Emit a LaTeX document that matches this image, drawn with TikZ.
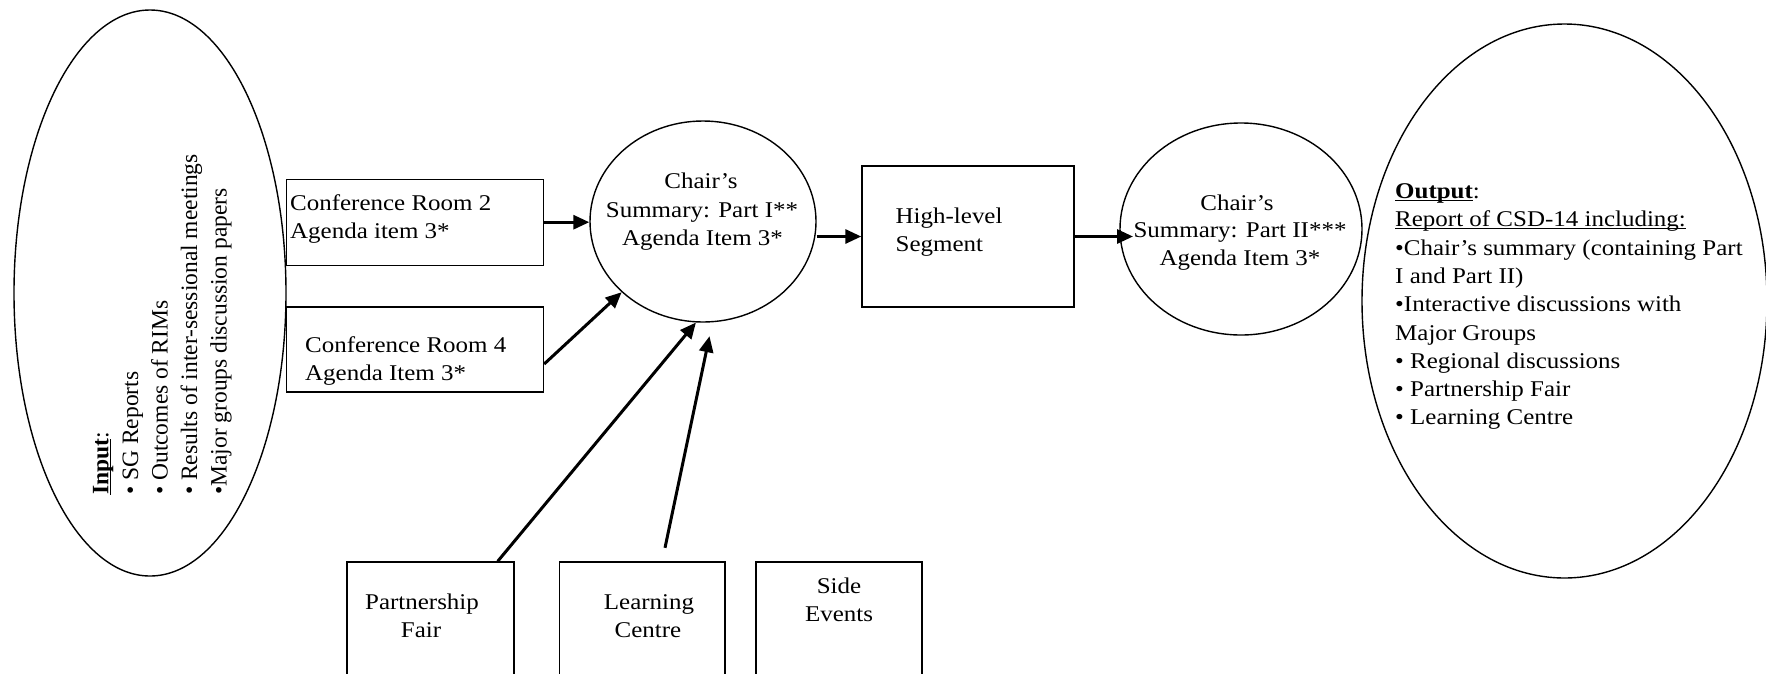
\documentclass[tikz,border=0pt]{standalone}
\usepackage{fontspec}
\setmainfont{Liberation Serif}
\newfontfamily\hfont[FakeStretch=1.11]{Liberation Serif}
\usetikzlibrary{shapes.geometric,arrows.meta}
\newcommand\myul[1]{\setbox0\hbox{#1}\rlap{\rule[-2.5pt]{\wd0}{1.3pt}}\box0}
\begin{document}
\begin{tikzpicture}[x=1pt,y=-1pt,
  box/.style={draw, line width=1.4pt, rectangle, inner sep=0pt},
  oval/.style={draw, line width=1.4pt, ellipse, inner sep=0pt},
  txt/.style={inner sep=0pt, font=\hfont\fontsize{22.5}{27}\selectfont},
  rtxt/.style={inner sep=0pt, rotate=90, anchor=base west, font=\fontsize{23.5}{28}\selectfont},
  arr/.style={line width=3pt, -{Triangle[length=16pt,width=14pt]}}
]
\useasboundingbox (0,0) rectangle (1766,673);
\clip (0,0) rectangle (1766,673);

% shapes
\node[oval, minimum width=272pt, minimum height=566pt] (inp) at (150,293) {};
\node[box, minimum width=257pt, minimum height=86pt] (cr2) at (415,222.2) {};
\node[box, minimum width=257pt, minimum height=85pt] (cr4) at (415,349.5) {};
\node[oval, minimum width=226pt, minimum height=201pt] (c1) at (703,221.5) {};
\node[box, minimum width=212pt, minimum height=141pt] (hl) at (968,236.5) {};
\node[oval, minimum width=242pt, minimum height=212pt] (c2) at (1241,229) {};
\node[oval, minimum width=405pt, minimum height=554pt] (out) at (1564.5,301) {};
\node[box, minimum width=167pt, minimum height=140pt] (pf) at (430.5,632) {};
\node[box, minimum width=165.5pt, minimum height=140pt] (lc) at (642.3,632) {};
\node[box, minimum width=166pt, minimum height=140pt] (se) at (839,632) {};

% input text (rotated)
\node[rtxt] (in1) at (108.3,495) {\myul{\bfseries Input}:};
\node[rtxt] (in2) at (138,495) {• SG Reports};
\node[rtxt] (in3) at (167.5,495) {• Outcomes of RIMs};
\node[rtxt] (in4) at (197,495) {• Results of inter-sessional meetings};
\node[rtxt] (in5) at (226.5,495) {•Major groups discussion papers};

% conference rooms
\node[txt, anchor=base west] (cr2a) at (290,210) {Conference Room 2};
\node[txt, anchor=base west] (cr2b) at (290,238) {Agenda item 3*};
\node[txt, anchor=base west] (cr4a) at (305,352) {Conference Room 4};
\node[txt, anchor=base west] (cr4b) at (305,380) {Agenda Item 3*};

% chair's summary I
\node[txt, anchor=base] (c1a) at (701,188) {Chair’s};
\node[txt, anchor=base] (c1b) at (702,217) {Summary: Part I**};
\node[txt, anchor=base] (c1c) at (702.5,245) {Agenda Item 3*};

% high-level
\node[txt, anchor=base west] (hla) at (895.5,223) {High-level};
\node[txt, anchor=base west] (hlb) at (895.5,251.5) {Segment};

% chair's summary II
\node[txt, anchor=base] (c2a) at (1237,210) {Chair’s};
\node[txt, anchor=base] (c2b) at (1240,237) {Summary: Part II***};
\node[txt, anchor=base] (c2c) at (1240,265) {Agenda Item 3*};

% output
\node[txt, anchor=base west] (o1) at (1395,198.5) {\myul{\bfseries Output}:};
\node[txt, anchor=base west] (o2) at (1395,226.8) {\myul{Report of CSD-14 including:}};
\node[txt, anchor=base west] (o3) at (1395,255.1) {•Chair’s summary (containing Part};
\node[txt, anchor=base west] (o4) at (1395,283.4) {I and Part II)};
\node[txt, anchor=base west] (o5) at (1395,311.7) {•Interactive discussions with};
\node[txt, anchor=base west] (o6) at (1395,340) {Major Groups};
\node[txt, anchor=base west] (o7) at (1395,368.3) {• Regional discussions};
\node[txt, anchor=base west] (o8) at (1395,396.6) {• Partnership Fair};
\node[txt, anchor=base west] (o9) at (1395,424.9) {• Learning Centre};

% bottom boxes
\node[txt, anchor=base] (pfa) at (422,609) {Partnership};
\node[txt, anchor=base] (pfb) at (421,637) {Fair};
\node[txt, anchor=base] (lca) at (649,609) {Learning};
\node[txt, anchor=base] (lcb) at (648,637) {Centre};
\node[txt, anchor=base] (sea) at (839,593) {Side};
\node[txt, anchor=base] (seb) at (839,621) {Events};

% connectors
\draw[arr] (cr2.east) -- (cr2.east -| c1.west);
\draw[arr] ([yshift=-14.5pt]cr4.east) -- (c1.221);
\draw[arr] ([xshift=-17pt]pf.north east) -- (c1.266);
\draw[arr] ([shift={(22.7pt,13.5pt)}]lc.north) -- ([shift={(6.5pt,-13.5pt)}]c1.south);
\draw[arr] (c1.east |- hl.west) -- (hl.west);
\coordinate (c2in) at (1133,236.5);
\draw[arr] (hl.east) -- (c2in);
\end{tikzpicture}
\end{document}
